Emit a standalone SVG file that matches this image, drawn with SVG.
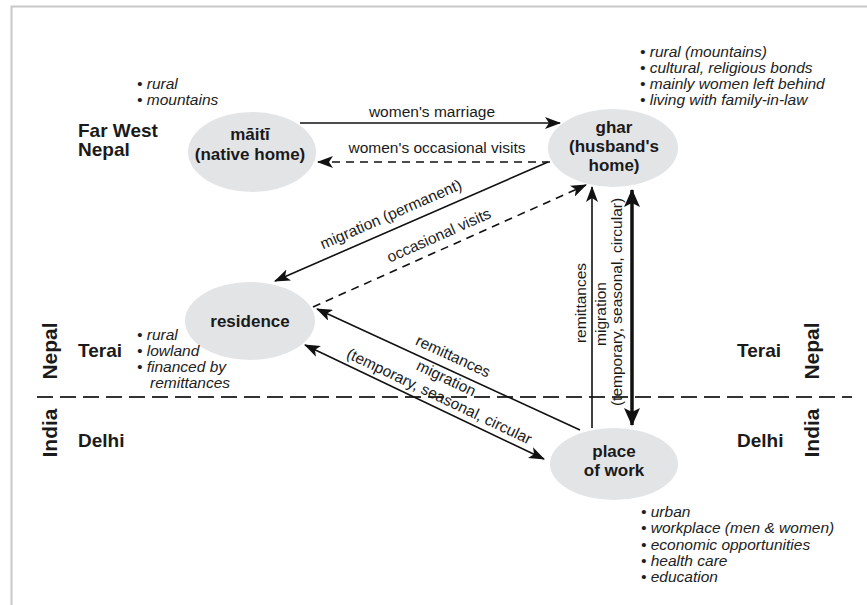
<svg xmlns="http://www.w3.org/2000/svg" width="867" height="605" viewBox="0 0 867 605">
<defs>
<style>
.node{fill:#e3e4e6;stroke:none}
.nl{font-family:"Liberation Sans",Arial,sans-serif;font-weight:bold;font-size:17px;fill:#1a1a1a;text-anchor:middle}
.reg{font-family:"Liberation Sans",Arial,sans-serif;font-weight:bold;font-size:19px;fill:#1a1a1a}
.cty{font-family:"Liberation Sans",Arial,sans-serif;font-weight:bold;font-size:21px;fill:#1a1a1a;text-anchor:middle}
.bul{font-family:"Liberation Sans",Arial,sans-serif;font-style:italic;font-size:15.5px;fill:#222}
.lab{font-family:"Liberation Sans",Arial,sans-serif;font-size:15.5px;fill:#1a1a1a;text-anchor:middle}
.ln{stroke:#111;stroke-width:1.6;fill:none}
.dash{stroke-dasharray:8 6}
.thick{stroke:#111;stroke-width:3.5;fill:none}
</style>
<marker id="arr" viewBox="0 0 16 12" refX="15" refY="6" markerWidth="16" markerHeight="12" markerUnits="userSpaceOnUse" orient="auto-start-reverse">
<path d="M0,0 L16,6 L0,12 L4,6 Z" fill="#111"/>
</marker>
<marker id="arrT" viewBox="0 0 18 16" refX="17" refY="8" markerWidth="18" markerHeight="16" markerUnits="userSpaceOnUse" orient="auto-start-reverse">
<path d="M0,0 L18,8 L0,16 L4,8 Z" fill="#111"/>
</marker>
</defs>
<rect width="867" height="605" fill="#fff"/>
<g id="frame" stroke="#c8c8c8" stroke-width="2" fill="none">
<path d="M11.5,605 L11.5,6.5 L867,6.5"/>
</g>
<g id="separator">
<line x1="37" y1="397" x2="852" y2="397" stroke="#333" stroke-width="2" stroke-dasharray="16 7"/>
</g>
<g id="regions">
<text class="reg" x="78" y="137">Far West</text>
<text class="reg" x="78" y="156">Nepal</text>
<text class="reg" x="78" y="357">Terai</text>
<text class="reg" x="78" y="447">Delhi</text>
<text class="reg" x="737" y="357">Terai</text>
<text class="reg" x="737" y="447">Delhi</text>
<text class="cty" transform="translate(57,351) rotate(-90)">Nepal</text>
<text class="cty" transform="translate(57,433) rotate(-90)">India</text>
<text class="cty" transform="translate(819,351) rotate(-90)">Nepal</text>
<text class="cty" transform="translate(819,433) rotate(-90)">India</text>
</g>
<g id="connectors">
<line class="ln" x1="300" y1="123" x2="560" y2="123" marker-end="url(#arr)"/>
<line class="ln dash" x1="550" y1="162" x2="318" y2="162" marker-end="url(#arr)"/>
<line class="ln" x1="548" y1="162" x2="275" y2="281" marker-end="url(#arr)"/>
<line class="ln dash" x1="313" y1="307" x2="586" y2="185" marker-end="url(#arr)"/>
<line class="ln" x1="580" y1="430" x2="317" y2="309" marker-end="url(#arr)"/>
<line class="ln" x1="305" y1="345" x2="544" y2="459" marker-start="url(#arr)" marker-end="url(#arr)"/>
<line class="ln" x1="592" y1="428" x2="592" y2="187" marker-end="url(#arr)"/>
<line class="thick" x1="632" y1="190" x2="632" y2="425" marker-start="url(#arrT)" marker-end="url(#arrT)"/>
<text class="lab" x="432" y="117">women's marriage</text>
<text class="lab" x="437" y="153">women's occasional visits</text>
<text class="lab" transform="translate(393,219) rotate(-23.5)">migration (permanent)</text>
<text class="lab" transform="translate(441,240) rotate(-24)">occasional visits</text>
<text class="lab" transform="translate(451,361) rotate(24.7)">remittances</text>
<text class="lab" transform="translate(444,383) rotate(25.5)">migration</text>
<text class="lab" transform="translate(437,401) rotate(25.5)">(temporary, seasonal, circular</text>
<text class="lab" transform="translate(586,303) rotate(-90)">remittances</text>
<text class="lab" transform="translate(606,314) rotate(-90)">migration</text>
<text class="lab" transform="translate(622,302) rotate(-90)">(temporary, seasonal, circular)</text>
</g>
<g id="maiti">
<ellipse class="node" cx="252" cy="152" rx="64" ry="40"/>
<text class="nl" x="250" y="140">māitī</text>
<text class="nl" x="250" y="160">(native home)</text>
</g>
<g id="ghar">
<ellipse class="node" cx="613" cy="148" rx="65" ry="39"/>
<text class="nl" x="614" y="133">ghar</text>
<text class="nl" x="614" y="152">(husband's</text>
<text class="nl" x="614" y="171">home)</text>
</g>
<g id="residence">
<ellipse class="node" cx="250" cy="321" rx="65" ry="39"/>
<text class="nl" x="250" y="327">residence</text>
</g>
<g id="place-of-work">
<ellipse class="node" cx="614" cy="464" rx="64" ry="36"/>
<text class="nl" x="614" y="457">place</text>
<text class="nl" x="614" y="476">of work</text>
</g>
<g id="notes">
<text class="bul" x="137" y="89">• rural</text>
<text class="bul" x="137" y="105">• mountains</text>
<text class="bul" x="640" y="57">• rural (mountains)</text>
<text class="bul" x="640" y="73">• cultural, religious bonds</text>
<text class="bul" x="640" y="89">• mainly women left behind</text>
<text class="bul" x="640" y="105">• living with family-in-law</text>
<text class="bul" x="137" y="340">• rural</text>
<text class="bul" x="137" y="356">• lowland</text>
<text class="bul" x="137" y="372">• financed by</text>
<text class="bul" x="150" y="388">remittances</text>
<text class="bul" x="641" y="517">• urban</text>
<text class="bul" x="641" y="533">• workplace (men &amp; women)</text>
<text class="bul" x="641" y="550">• economic opportunities</text>
<text class="bul" x="641" y="566">• health care</text>
<text class="bul" x="641" y="582">• education</text>
</g>
</svg>
